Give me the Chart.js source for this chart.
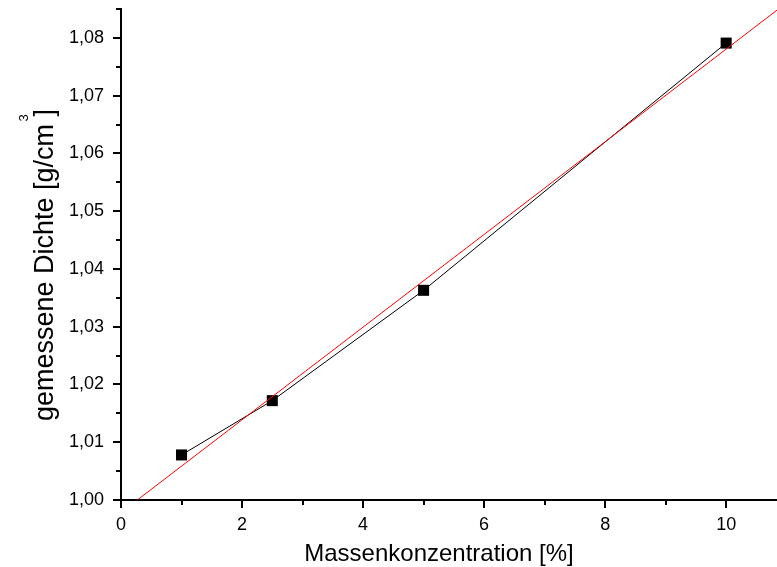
<!DOCTYPE html>
<html>
<head>
<meta charset="utf-8">
<script src="https://cdn.jsdelivr.net/npm/chart.js@4/dist/chart.umd.min.js"></script>
<style>
  html, body { margin: 0; padding: 0; background: #fff; }
  #wrap { width: 777px; height: 567px; }
</style>
</head>
<body>
<div id="wrap"><canvas id="densityChart" width="777" height="567"></canvas></div>
<script>
// Data
const concentration = [1, 2.5, 5, 10];              // Massenkonzentration [%]
const density       = [1.0078, 1.0172, 1.0363, 1.0791]; // gemessene Dichte [g/cm3]
const fitX = [0.27, 10.84];                          // linear fit, ends of the red line
const fitY = [1.0, 1.0848];
const xMinorTicks = [1, 3, 5, 7, 9];
const yMinorTicks = [1.005, 1.015, 1.025, 1.035, 1.045, 1.055, 1.065, 1.075, 1.085];

const font = 'Arial, "Liberation Sans", sans-serif';

// titles + minor ticks
const axisExtras = {
  id: 'axisExtras',
  afterDraw(chart) {
    const ctx = chart.ctx, area = chart.chartArea;
    const xs = chart.scales.x, ys = chart.scales.y;
    ctx.save();
    ctx.strokeStyle = '#000';
    ctx.lineWidth = 2;
    ctx.beginPath();
    xMinorTicks.forEach(v => {
      const px = Math.round(xs.getPixelForValue(v));
      ctx.moveTo(px, area.bottom);
      ctx.lineTo(px, area.bottom + 5);
    });
    yMinorTicks.forEach(v => {
      const py = Math.round(ys.getPixelForValue(v));
      ctx.moveTo(area.left - 5, py);
      ctx.lineTo(area.left, py);
    });
    ctx.stroke();

    ctx.fillStyle = '#000';
    // x title
    ctx.font = '24px ' + font;
    ctx.textAlign = 'center';
    ctx.textBaseline = 'alphabetic';
    ctx.fillText('Massenkonzentration [%]', 439, 561);

    // y title with superscript
    ctx.translate(53, 265);
    ctx.rotate(-Math.PI / 2);
    ctx.font = '27px ' + font;
    ctx.fillText('gemessene Dichte [g/cm ]', 0, 0);
    ctx.font = '13px ' + font;
    ctx.fillText('3', 147, -25);
    ctx.restore();
  }
};

new Chart(document.getElementById('densityChart'), {
  type: 'scatter',
  data: {
    datasets: [
      {
        label: 'Fit',
        data: fitX.map((x, i) => ({ x: x, y: fitY[i] })),
        showLine: true,
        borderColor: '#ff0000',
        borderWidth: 1,
        pointRadius: 0,
        order: 0
      },
      {
        label: 'Dichte',
        data: concentration.map((x, i) => ({ x: x, y: density[i] })),
        showLine: true,
        borderColor: '#000',
        borderWidth: 1,
        backgroundColor: '#000',
        pointStyle: 'rect',
        pointRadius: 7.8,
        pointBorderWidth: 0,
        order: 1
      }
    ]
  },
  options: {
    responsive: false,
    animation: false,
    devicePixelRatio: 1,
    layout: { autoPadding: false, padding: { top: 9, right: 0, left: 0, bottom: 0 } },
    plugins: { legend: { display: false }, tooltip: { enabled: false } },
    scales: {
      x: {
        type: 'linear',
        min: 0, max: 10.84,
        afterFit: s => { s.height = 67; s.paddingLeft = 0; s.paddingRight = 0; },
        ticks: {
          stepSize: 2, includeBounds: false, padding: 6,
          color: '#000', font: { family: font, size: 18 }
        },
        grid: { drawOnChartArea: false, tickLength: 8, color: '#000', lineWidth: 2 },
        border: { color: '#000', width: 2 }
      },
      y: {
        type: 'linear',
        min: 1.0, max: 1.085,
        afterFit: s => { s.width = 121; s.paddingTop = 0; s.paddingBottom = 0; },
        ticks: {
          stepSize: 0.01, includeBounds: false, padding: 9,
          color: '#000', font: { family: font, size: 18 },
          callback: v => v.toFixed(2).replace('.', ',')
        },
        grid: { drawOnChartArea: false, tickLength: 8, color: '#000', lineWidth: 2 },
        border: { color: '#000', width: 2 }
      }
    }
  },
  plugins: [axisExtras]
});
</script>
</body>
</html>
